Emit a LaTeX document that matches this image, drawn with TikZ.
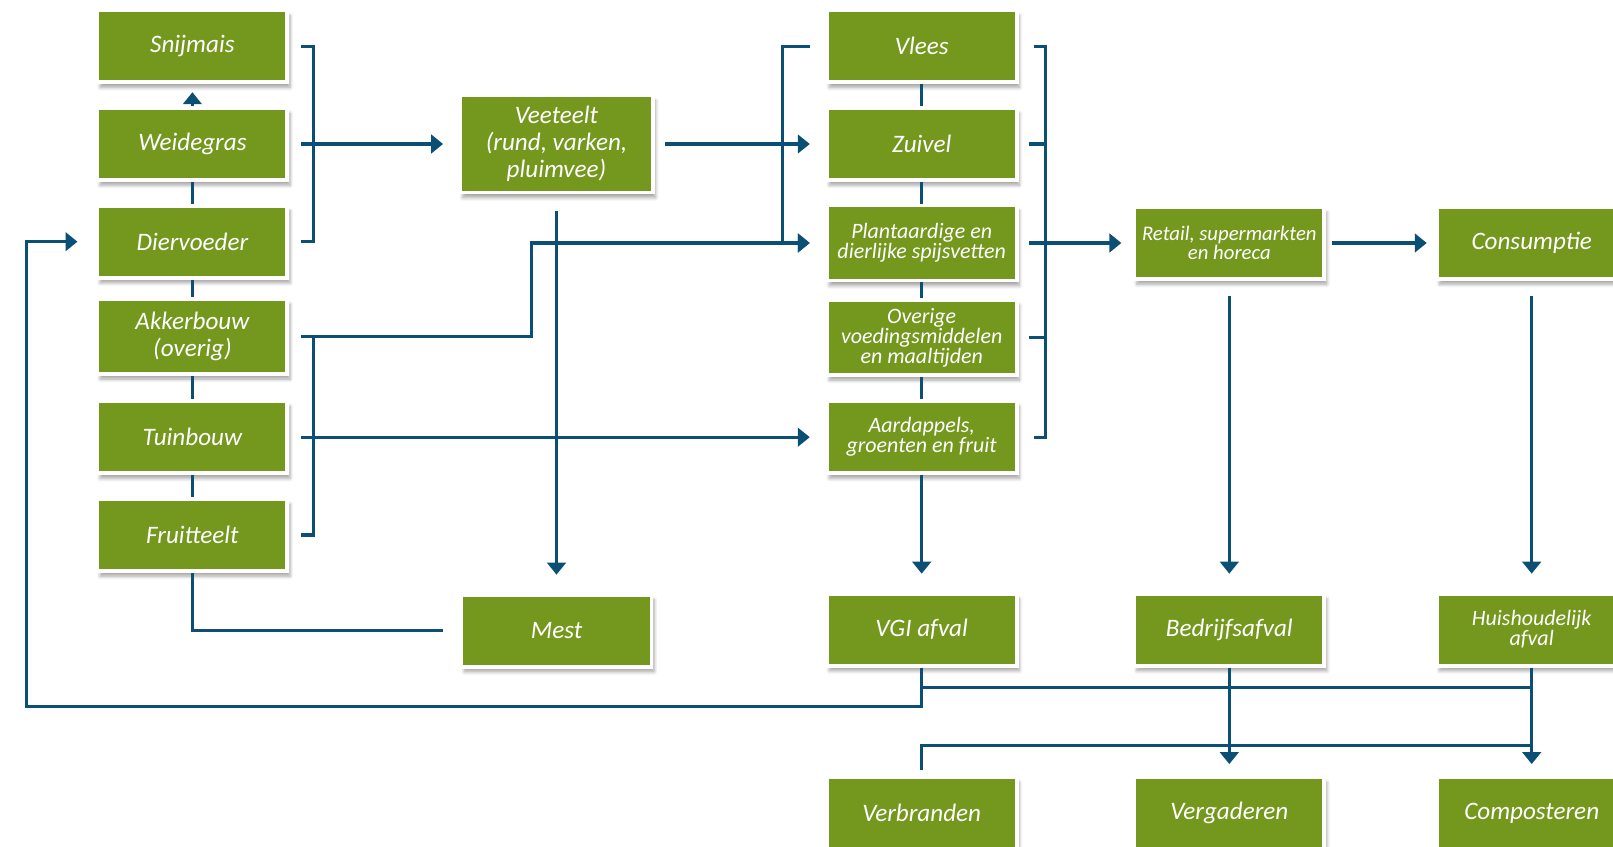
\documentclass[tikz,border=0pt]{standalone}
\usepackage{fontspec}
\setmainfont{Carlito}
\usepackage{xcolor}
\usetikzlibrary{arrows.meta,calc,shadows.blur}

\definecolor{leafgreen}{RGB}{116,151,30}
\definecolor{flowblue}{RGB}{12,79,117}

\begin{document}
\begin{tikzpicture}[x=0.02cm, y=-0.02cm,
    box/.style={fill=leafgreen, draw=white, line width=2.2pt, minimum width=3.8cm,
      minimum height=1.44cm, inner sep=1pt, align=center, text=white,
      font=\fontsize{14.3}{15.5}\selectfont\itshape,
      blur shadow={shadow xshift=1.5pt, shadow yshift=-3pt, shadow blur steps=6, shadow opacity=35}},
    small/.style={font=\fontsize{12.5}{11.4}\selectfont\itshape},
    smaller/.style={font=\fontsize{11.8}{11.2}\selectfont\itshape},
    link/.style={draw=flowblue, line width=1.9pt},
    arr/.style={link, -{Triangle[length=6.8pt, width=10.5pt]}}]
  \useasboundingbox (0,0) rectangle (1613,847);
  \clip (0,0) rectangle (1613,847);
  % teelt
  \node[box] (snijmais) at (192.4,46.3) {Snijmais};
  \node[box] (weidegras) at (192.4,144) {Weidegras};
  \node[box] (diervoeder) at (192.4,241.7) {Diervoeder};
  \node[box, minimum height=1.5cm] (akkerbouw) at (192.4,336.4) {Akkerbouw\\(overig)};
  \node[box] (tuinbouw) at (192.4,437.2) {Tuinbouw};
  \node[box] (fruitteelt) at (192.4,535) {Fruitteelt};
  \node[box, minimum width=3.86cm, minimum height=1.94cm] (veeteelt) at (556.5,144) {Veeteelt\\(rund, varken,\\pluimvee)};
  \node[box] (mest) at (556.5,630.6) {Mest};
  % verwerking
  \node[box] (vlees) at (921.7,46.3) {Vlees};
  \node[box] (zuivel) at (921.7,144) {Zuivel};
  \node[box, small, minimum height=1.5cm] (spijsvet) at (921.7,243) {Plantaardige en\\dierlijke spijsvetten};
  \node[box, small, minimum height=1.5cm] (overige) at (921.7,337.4) {Overige\\voedingsmiddelen\\en maaltijden};
  \node[box, small] (agf) at (921.7,437.2) {Aardappels,\\groenten en fruit};
  \node[box, smaller] (retail) at (1229.3,243) {Retail, supermarkten\\en horeca};
  \node[box] (consumptie) at (1531.7,243) {Consumptie};
  % afval
  \node[box] (vgi) at (921.7,629.6) {VGI afval};
  \node[box] (bedrijf) at (1229.3,629.6) {Bedrijfsafval};
  \node[box, small] (huishouden) at (1531.7,629.6) {Huishoudelijk\\afval};
  \node[box] (verbranden) at (921.7,813) {Verbranden};
  \node[box] (vergaderen) at (1229.3,813) {Vergaderen};
  \node[box] (composteren) at (1531.7,813) {Composteren};
  \coordinate (bend) at (531.8,0);
  \coordinate (loop) at (26.7,706.7);

  % linker kolom
  \draw[arr] (weidegras.north) -- ($(snijmais.south)+(0,8)$);
  \draw[link] (weidegras.south) -- (diervoeder.north);
  \draw[link] (diervoeder.south) -- (akkerbouw.north);
  \draw[link] (akkerbouw.south) -- (tuinbouw.north);
  \draw[link] (tuinbouw.south) -- (fruitteelt.north);
  \draw[link] (fruitteelt.south) |- ($(mest.west)+(-17,0)$);
  \draw[link] ($(snijmais.east)+(12,0)$) -| ($(diervoeder.east)+(24,0)$) -- ($(diervoeder.east)+(12,0)$);
  \draw[link] ($(akkerbouw.east)+(12,0)$) -| ($(fruitteelt.east)+(24,0)$) -- ($(fruitteelt.east)+(12,0)$);
  \draw[arr] ($(weidegras.east)+(12,0)$) -- ($(veeteelt.west)+(-15,0)$);
  \draw[arr] ($(akkerbouw.east)+(12,0)$) -| (bend |- spijsvet) -- ($(spijsvet.west)+(-15,0)$);
  \draw[arr] ($(tuinbouw.east)+(12,0)$) -- ($(agf.west)+(-15,0)$);
  \draw[arr] ($(veeteelt.south)+(0,17)$) -- ($(mest.north)+(0,-18)$);
  \draw[arr] ($(veeteelt.east)+(10,0)$) -- ($(zuivel.west)+(-15,0)$);
  \draw[arr] ($(vlees.west)+(-15,0)$) -| ($(spijsvet.west)+(-42,0)$) -- ($(spijsvet.west)+(-15,0)$);

  % middelste kolom
  \draw[link] (vlees.south) -- (zuivel.north);
  \draw[link] (zuivel.south) -- (spijsvet.north);
  \draw[link] (spijsvet.south) -- (overige.north);
  \draw[link] (overige.south) -- (agf.north);
  \draw[arr] (agf.south) -- ($(vgi.north)+(0,-18)$);
  \draw[link] ($(vlees.east)+(15,0)$) -| ($(agf.east)+(27,0)$) -- ($(agf.east)+(15,0)$);
  \draw[link] ($(zuivel.east)+(10,0)$) -- ($(zuivel.east)+(27,0)$);
  \draw[link] ($(overige.east)+(10,0)$) -- ($(overige.east)+(27,0)$);
  \draw[arr] ($(spijsvet.east)+(10,0)$) -- ($(retail.west)+(-11,0)$);
  \draw[arr] ($(retail.east)+(6,0)$) -- ($(consumptie.west)+(-8,0)$);
  \draw[arr] ($(retail.south)+(0,15)$) -- ($(bedrijf.north)+(0,-18)$);
  \draw[arr] ($(consumptie.south)+(0,15)$) -- ($(huishouden.north)+(0,-18)$);

  % afval
  \draw[arr] (vgi.south) |- (loop) |- ($(diervoeder.west)+(-18,0)$);
  \draw[link] ($(vgi.south)+(0,20)$) -- ($(huishouden.south)+(0,20)$);
  \draw[arr] (bedrijf.south) -- ($(vergaderen.north)+(0,-11)$);
  \draw[arr] (huishouden.south) -- ($(composteren.north)+(0,-11)$);
  \draw[link] ($(huishouden.south)+(0,78)$) -| ($(verbranden.north)+(0,-5)$);
\end{tikzpicture}
\end{document}
